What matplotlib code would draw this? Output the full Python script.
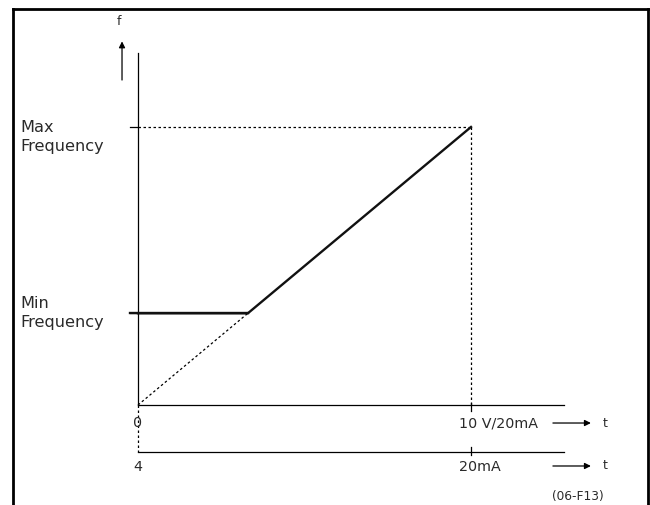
import matplotlib.pyplot as plt
from matplotlib.lines import Line2D

# output frequency vs. analogue input (0-10 V, second scale 4-20 mA)
curve_v = [0, 3.3, 10]          # input in volts
curve_f = [16.5, 16.5, 50.0]    # output frequency
f_min = 16.5
f_max = 50.0
knee_v = 3.3
v_top = 10
volt_labels = ['0', '10 V/20mA']
ma_labels = ['4', '20mA']

fig = plt.figure(figsize=(6.5, 5.05), dpi=100)
ax = fig.add_axes([138 / 650, 100 / 505, 333 / 650, 278 / 505])
ax.set_xlim(0, 10)
ax.set_ylim(0, 50)
ax.axis('off')

txt = '#2a2a2a'
dots = (0, (2, 2))
y2 = -8.45      # second (mA) scale line
x_end = 12.8

# axes
ax.plot([0, 0], [0, 63.3], color='black', lw=0.9, clip_on=False)
ax.plot([0, x_end], [0, 0], color='black', lw=0.9, clip_on=False)
ax.plot([0, x_end], [y2, y2], color='black', lw=0.9, clip_on=False)
ax.plot([0, 0], [0, y2], color='black', lw=0.9, ls=dots, clip_on=False)

# ticks
for f in [f_min, f_max]:
    ax.plot([-0.24, 0], [f, f], color='black', lw=0.9, clip_on=False)
ax.plot([v_top, v_top], [0.36, -1.08], color='black', lw=0.9, clip_on=False)
ax.plot([v_top, v_top], [y2 + 0.9, y2 - 0.55], color='black', lw=0.9, clip_on=False)

# guides
ax.plot([0, v_top], [f_max, f_max], color='black', lw=0.9, ls=dots, clip_on=False)
ax.plot([v_top, v_top], [f_max, 0], color='black', lw=0.9, ls=dots, clip_on=False)
ax.plot([0, knee_v], [0, f_min], color='black', lw=0.9, ls=dots, clip_on=False)

# characteristic
ax.plot(curve_v, curve_f, color='#111111', lw=1.7, solid_joinstyle='miter', clip_on=False)
ax.plot([-0.24, knee_v], [f_min, f_min], color='#111111', lw=1.7, clip_on=False)

# labels
fs = 11.6
ax.text(-3.54, f_max - 1.8, 'Max\nFrequency', fontsize=fs, color=txt, ha='left', va='center',
        linespacing=1.35, clip_on=False)
ax.text(-3.54, f_min, 'Min\nFrequency', fontsize=fs, color=txt, ha='left', va='center',
        linespacing=1.35, clip_on=False)
ax.text(0, -3.24, volt_labels[0], fontsize=10.3, color=txt, ha='center', va='center')
ax.text(9.64, -3.24, volt_labels[1], fontsize=10.3, color=txt, ha='left', va='center')
ax.text(0, -11.1, ma_labels[0], fontsize=10.3, color=txt, ha='center', va='center')
ax.text(9.64, -11.1, ma_labels[1], fontsize=10.3, color=txt, ha='left', va='center')

for yy in [-3.24, -10.97]:
    ax.annotate('', xy=(13.6, yy), xytext=(12.46, yy), annotation_clip=False,
                arrowprops=dict(arrowstyle='-|>', color='black', lw=0.9,
                                mutation_scale=9, shrinkA=0, shrinkB=0))
    ax.text(14.02, yy, 't', fontsize=9, color=txt, ha='center', va='center')

ax.annotate('', xy=(-0.48, 65.4), xytext=(-0.48, 58.45), annotation_clip=False,
            arrowprops=dict(arrowstyle='-|>', color='black', lw=0.9,
                            mutation_scale=9, shrinkA=0, shrinkB=0))
ax.text(-0.57, 68.9, 'f', fontsize=9, color=txt, ha='center', va='center')

ax.text(12.43, -16.5, '(06-F13)', fontsize=8.7, color=txt, ha='left', va='center')

# frame round the figure (open at the bottom)
for xs, ys in [([0.02, 0.02], [0, 0.982]), ([0.02, 0.997], [0.982, 0.982]),
               ([0.997, 0.997], [0.982, 0])]:
    fig.add_artist(Line2D(xs, ys, color='black', lw=2, transform=fig.transFigure,
                          solid_capstyle='projecting'))

fig.savefig('out.png', dpi=100)
